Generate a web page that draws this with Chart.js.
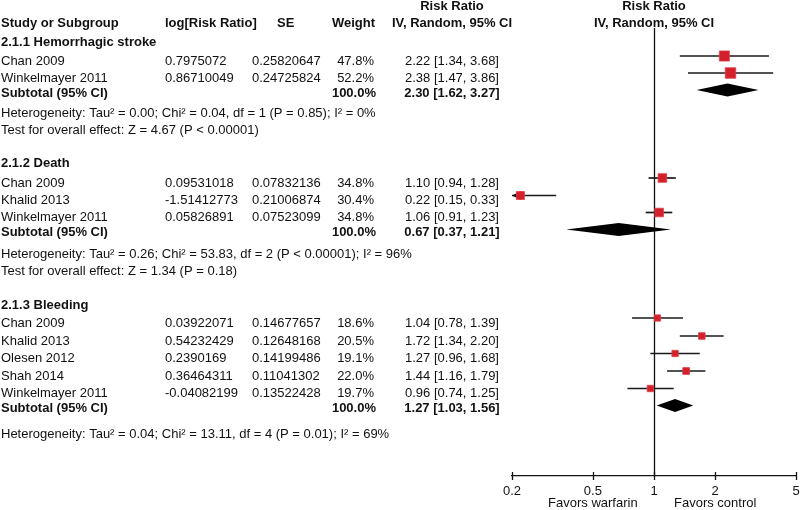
<!DOCTYPE html>
<html>
<head>
<meta charset="utf-8">
<script src="https://cdn.jsdelivr.net/npm/chart.js@4.4.1/dist/chart.umd.min.js"></script>
<style>
  html, body { margin: 0; padding: 0; background: #fff; }
  #wrap { width: 800px; height: 510px; position: relative; }
</style>
</head>
<body>
<div id="wrap"><canvas id="c" width="800" height="510"></canvas></div>
<script>
// ---------------- DATA ----------------
const groupTitles = ['2.1.1 Hemorrhagic stroke', '2.1.2 Death', '2.1.3 Bleeding'];
const studyNames = ['Chan 2009', 'Winkelmayer 2011',
                    'Chan 2009', 'Khalid 2013', 'Winkelmayer 2011',
                    'Chan 2009', 'Khalid 2013', 'Olesen 2012', 'Shah 2014', 'Winkelmayer 2011'];
const studyGroup = [0, 0, 1, 1, 1, 2, 2, 2, 2, 2];
const logRR = ['0.7975072', '0.86710049',
               '0.09531018', '-1.51412773', '0.05826891',
               '0.03922071', '0.54232429', '0.2390169', '0.36464311', '-0.04082199'];
const seValues = ['0.25820647', '0.24725824',
                  '0.07832136', '0.21006874', '0.07523099',
                  '0.14677657', '0.12648168', '0.14199486', '0.11041302', '0.13522428'];
const weights = [47.8, 52.2, 34.8, 30.4, 34.8, 18.6, 20.5, 19.1, 22.0, 19.7];
const riskRatio = [2.22, 2.38, 1.10, 0.22, 1.06, 1.04, 1.72, 1.27, 1.44, 0.96];
const ciLow  = [1.34, 1.47, 0.94, 0.15, 0.91, 0.78, 1.34, 0.96, 1.16, 0.74];
const ciHigh = [3.68, 3.86, 1.28, 0.33, 1.23, 1.39, 2.20, 1.68, 1.79, 1.25];
const subtotalRR   = [2.30, 0.67, 1.27];
const subtotalLow  = [1.62, 0.37, 1.03];
const subtotalHigh = [3.27, 1.21, 1.56];
const heterogeneity = [
  'Heterogeneity: Tau\u00B2 = 0.00; Chi\u00B2 = 0.04, df = 1 (P = 0.85); I\u00B2 = 0%',
  'Heterogeneity: Tau\u00B2 = 0.26; Chi\u00B2 = 53.83, df = 2 (P < 0.00001); I\u00B2 = 96%',
  'Heterogeneity: Tau\u00B2 = 0.04; Chi\u00B2 = 13.11, df = 4 (P = 0.01); I\u00B2 = 69%'];
const overallEffect = [
  'Test for overall effect: Z = 4.67 (P < 0.00001)',
  'Test for overall effect: Z = 1.34 (P = 0.18)',
  null];
const xTicks = [0.2, 0.5, 1, 2, 5];
const xLabels = ['0.2', '0.5', '1', '2', '5'];
const favorLabels = ['Favors warfarin', 'Favors control'];

// ---------------- LAYOUT (row positions, px) ----------------
const headerRowY = 23, headerTopY = 6;
const groupTitleY = [42, 163, 305];
const studyRowY = [61, 78, 183, 200.5, 217.5, 323, 341, 358.5, 376, 393.5];
const subtotalY = [93, 232.5, 408.5];
const hetY = [113, 254, 434];
const testY = [130, 271, null];
const markerShift = -5, diamondShift = -3;

const FONT = "'Liberation Sans', Arial, Helvetica, sans-serif";
const FS = 13;
const colStudy = 1, colLog = 165, colSE = 252, colWeight = 374, colRR = 452;

function fmt2(v) { return v.toFixed(2); }
function ciText(r, l, h) { return fmt2(r) + ' [' + fmt2(l) + ', ' + fmt2(h) + ']'; }

const forestPlugin = {
  id: 'forest',
  beforeDatasetsDraw(chart) {
    const ctx = chart.ctx, xs = chart.scales.x, ys = chart.scales.y;
    const area = chart.chartArea;
    ctx.save();
    // reference line at RR = 1
    const x1 = Math.round(xs.getPixelForValue(1)) + 0.5;
    ctx.strokeStyle = '#111'; ctx.lineWidth = 1.3;
    ctx.beginPath(); ctx.moveTo(x1, ys.getPixelForValue(28)); ctx.lineTo(x1, area.bottom); ctx.stroke();
    // whiskers
    ctx.strokeStyle = '#1a1a1a'; ctx.lineWidth = 1.7;
    for (let i = 0; i < riskRatio.length; i++) {
      const y = ys.getPixelForValue(studyRowY[i] + markerShift);
      const lo = ciLow[i] < xs.min ? xs.min : ciLow[i];
      const hi = ciHigh[i] > xs.max ? xs.max : ciHigh[i];
      const pl = xs.getPixelForValue(lo), ph = xs.getPixelForValue(hi);
      ctx.beginPath(); ctx.moveTo(pl, y); ctx.lineTo(ph, y); ctx.stroke();
      if (ciLow[i] < xs.min) {
        ctx.fillStyle = '#111';
        ctx.beginPath(); ctx.moveTo(pl, y); ctx.lineTo(pl + 9, y - 4.5); ctx.lineTo(pl + 9, y + 4.5); ctx.closePath(); ctx.fill();
      }
    }
    // subtotal diamonds
    ctx.fillStyle = '#000';
    for (let g = 0; g < subtotalRR.length; g++) {
      const y = ys.getPixelForValue(subtotalY[g] + diamondShift);
      const pl = xs.getPixelForValue(subtotalLow[g]), pc = xs.getPixelForValue(subtotalRR[g]), ph = xs.getPixelForValue(subtotalHigh[g]);
      ctx.beginPath(); ctx.moveTo(pl, y); ctx.lineTo(pc, y - 6.5); ctx.lineTo(ph, y); ctx.lineTo(pc, y + 6.5); ctx.closePath(); ctx.fill();
    }
    // x tick marks crossing the axis
    ctx.strokeStyle = '#111'; ctx.lineWidth = 1.3;
    xTicks.forEach(v => {
      const px = Math.round(xs.getPixelForValue(v)) + 0.5;
      ctx.beginPath(); ctx.moveTo(px, area.bottom - 4); ctx.lineTo(px, area.bottom + 4); ctx.stroke();
    });
    ctx.restore();
  },
  afterDraw(chart) {
    const ctx = chart.ctx, xs = chart.scales.x, ys = chart.scales.y;
    const Y = v => ys.getPixelForValue(v);
    ctx.save();
    ctx.fillStyle = '#111';
    ctx.textBaseline = 'middle';
    const bold = 'bold ' + FS + 'px ' + FONT, norm = FS + 'px ' + FONT;
    function t(s, x, y, align, f) { ctx.font = f; ctx.textAlign = align; ctx.fillText(s, x, Y(y)); }
    // header
    t('Study or Subgroup', colStudy, headerRowY, 'left', bold);
    t('log[Risk Ratio]', colLog, headerRowY, 'left', bold);
    t('SE', 277, headerRowY, 'left', bold);
    t('Weight', colWeight + 1, headerRowY, 'right', bold);
    t('Risk Ratio', colRR, headerTopY, 'center', bold);
    t('IV, Random, 95% CI', colRR, headerRowY, 'center', bold);
    const xc = xs.getPixelForValue(1);
    t('Risk Ratio', xc, headerTopY, 'center', bold);
    t('IV, Random, 95% CI', xc, headerRowY, 'center', bold);
    // groups
    for (let g = 0; g < groupTitles.length; g++) {
      t(groupTitles[g], colStudy, groupTitleY[g], 'left', bold);
      t('Subtotal (95% CI)', colStudy, subtotalY[g], 'left', bold);
      t('100.0%', colWeight + 2, subtotalY[g], 'right', bold);
      t(ciText(subtotalRR[g], subtotalLow[g], subtotalHigh[g]), colRR, subtotalY[g], 'center', bold);
      t(heterogeneity[g], colStudy, hetY[g], 'left', norm);
      if (overallEffect[g]) t(overallEffect[g], colStudy, testY[g], 'left', norm);
    }
    for (let i = 0; i < studyNames.length; i++) {
      const y = studyRowY[i];
      t(studyNames[i], colStudy, y, 'left', norm);
      t(logRR[i], colLog, y, 'left', norm);
      t(seValues[i], colSE, y, 'left', norm);
      t(weights[i].toFixed(1) + '%', colWeight, y, 'right', norm);
      t(ciText(riskRatio[i], ciLow[i], ciHigh[i]), colRR, y, 'center', norm);
    }
    // favors labels
    ctx.font = '13px ' + FONT; ctx.textAlign = 'center';
    ctx.fillText(favorLabels[0], xs.getPixelForValue(0.5), 503);
    ctx.fillText(favorLabels[1], xs.getPixelForValue(2), 503);
    ctx.restore();
  }
};

const points = riskRatio.map((r, i) => ({ x: r, y: studyRowY[i] + markerShift }));

new Chart(document.getElementById('c'), {
  type: 'scatter',
  data: {
    datasets: [{
      data: points,
      pointStyle: 'rect',
      pointRadius: weights.map(w => 1.03 * Math.sqrt(w)),
      pointHoverRadius: weights.map(w => 1.03 * Math.sqrt(w)),
      backgroundColor: '#d3202a',
      borderColor: '#e04048',
      borderWidth: 0.8,
      clip: false
    }]
  },
  options: {
    responsive: false,
    animation: false,
    devicePixelRatio: 1,
    layout: { autoPadding: false, padding: { left: 512, right: 4, top: 0, bottom: 0 } },
    plugins: { legend: { display: false }, tooltip: { enabled: false } },
    scales: {
      x: {
        type: 'logarithmic',
        min: 0.2, max: 5,
        afterBuildTicks: s => { s.ticks = xTicks.map(v => ({ value: v })); },
        afterFit: s => { s.height = 34; s.paddingLeft = 0; s.paddingRight = 0; },
        grid: { display: false, drawTicks: false },
        border: { display: true, color: '#111', width: 1.3 },
        ticks: {
          padding: 8,
          color: '#111',
          font: { family: FONT, size: 13 },
          maxRotation: 0, autoSkip: false,
          callback: (v) => { const k = xTicks.indexOf(v); return k >= 0 ? xLabels[k] : ''; }
        }
      },
      y: {
        type: 'linear', min: 0, max: 476, reverse: true, display: false
      }
    }
  },
  plugins: [forestPlugin]
});
</script>
</body>
</html>
